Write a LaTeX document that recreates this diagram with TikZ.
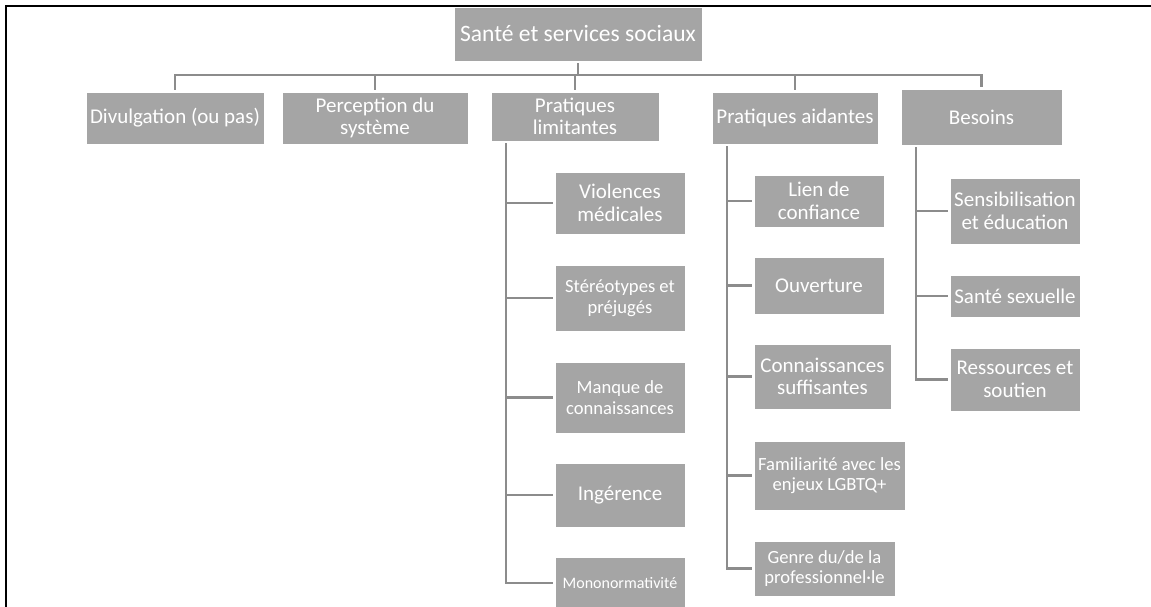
\documentclass[tikz,border=0pt]{standalone}
\usepackage{fontspec}
\setmainfont{Carlito}
\usetikzlibrary{calc}
\definecolor{boxgray}{HTML}{A5A5A5}
\definecolor{linkgray}{HTML}{8C8C8C}

% box given by its corners: [style]{x1}{y1}{x2}{y2}{name}{text}
\newcommand{\pbox}[7][]{%
  \node[box,#1,minimum width={#4-#2},minimum height={#5-#3}] (#6)
    at ({(#2+#4)/2},{(#3+#5)/2}) {#7};}

\begin{document}
\begin{tikzpicture}[x=1pt,y=-1pt,
  box/.style={fill=boxgray, draw=white, line width=0.8pt, text=white,
    inner sep=0pt, align=center, font=\fontsize{21}{22.6}\selectfont},
  smalltext/.style={font=\fontsize{18.6}{20.6}\selectfont},
  tinytext/.style={font=\fontsize{16}{18}\selectfont},
  bigtext/.style={font=\fontsize{23.5}{26}\selectfont},
  link/.style={draw=linkgray, line width=2.2pt, shorten >=2pt},
  frameline/.style={draw=black, line width=2.4pt}]
\useasboundingbox (0,0) rectangle (1151,607);
\clip (0,0) rectangle (1151,607);

% outer frame
\draw[frameline] (6,640) |- (1180,6);

% top level
\pbox[bigtext]{454}{7}{702}{61}{root}{Santé et services sociaux}

\pbox{86}{92}{264}{144}{div}{Divulgation (ou pas)}
\pbox{282}{92}{468}{144}{perc}{Perception du\\système}
\pbox{491}{92}{659}{141}{lim}{Pratiques\\limitantes}
\pbox{712}{92}{878}{144}{aid}{Pratiques aidantes}
\pbox{901}{89}{1062}{145}{bes}{Besoins}

% Pratiques limitantes
\pbox{555}{172}{685}{234}{vm}{Violences\\médicales}
\pbox[smalltext]{555}{265}{685}{331}{st}{Stéréotypes et\\préjugés}
\pbox[smalltext]{555}{362}{685}{433}{mq}{Manque de\\connaissances}
\pbox{555}{463}{685}{527}{ing}{Ingérence}
\pbox[tinytext]{555}{557}{685}{609}{mono}{Mononormativité}

% Pratiques aidantes
\pbox{754}{175}{884}{227}{lien}{Lien de\\confiance}
\pbox{754}{257}{884}{314}{ouv}{Ouverture}
\pbox{754}{344}{891}{409}{conn}{Connaissances\\suffisantes}
\pbox[smalltext]{754}{441}{905}{510}{fam}{Familiarité avec les\\enjeux LGBTQ+}
\pbox[smalltext]{754}{541}{895}{596}{genre}{Genre du/de la\\professionnel·le}

% Besoins
\pbox{950}{178}{1080}{244}{sens}{Sensibilisation\\et éducation}
\pbox{950}{275}{1080}{317}{sex}{Santé sexuelle}
\pbox{950}{348}{1080}{411}{res}{Ressources et\\soutien}

% connectors from the root: stem, bar, drops
\coordinate (rootstem) at ($(root.south)+(0,2)$);
\coordinate (rootbar) at ($(root.south)+(0,14)$);
\draw[link, shorten >=0pt] (rootstem) -- (rootbar);
\draw[link] (rootbar) -| (div.north);
\draw[link] (rootbar) -| (bes.north);
\foreach \c in {perc,lim,aid}
  \draw[link] (rootbar -| \c.north) -- (\c.north);

% stems and branches to the sub-items
\coordinate (limstem) at ($(lim.south west)+(15,2)$);
\draw[link] (limstem) |- (mono.west);
\foreach \c in {vm,st,mq,ing}
  \draw[link] (limstem |- \c.west) -- (\c.west);

\coordinate (aidstem) at ($(aid.south west)+(15,2)$);
\draw[link] (aidstem) |- (genre.west);
\foreach \c in {lien,ouv,conn,fam}
  \draw[link] (aidstem |- \c.west) -- (\c.west);

\coordinate (besstem) at ($(bes.south west)+(15,2)$);
\draw[link] (besstem) |- (res.west);
\foreach \c in {sens,sex}
  \draw[link] (besstem |- \c.west) -- (\c.west);
\end{tikzpicture}
\end{document}
